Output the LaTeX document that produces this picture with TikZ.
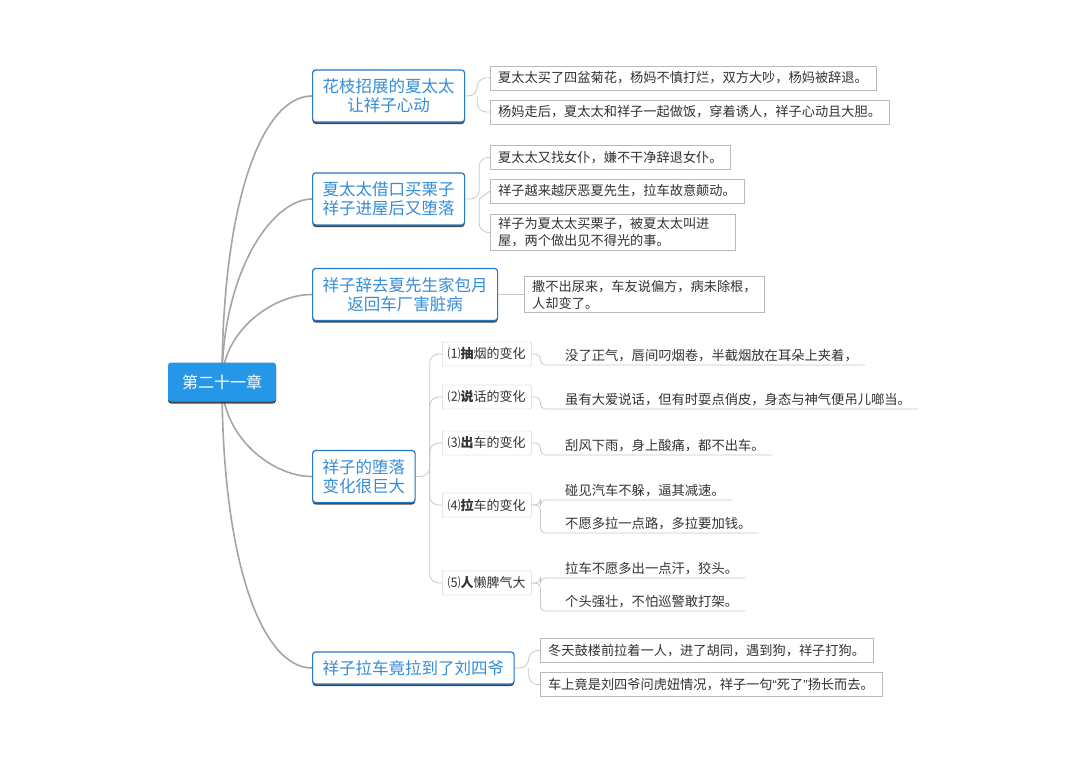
\documentclass[tikz,border=0pt]{standalone}
\usepackage{fontspec}
\newfontfamily\cjk{Noto Sans CJK SC}
\newfontfamily\quotefont{Liberation Sans}
\usetikzlibrary{shadows,backgrounds}
\begin{document}
\begin{tikzpicture}[x=1pt,y=-1pt,
    myShadow/.style={drop shadow={shadow xshift=0pt,shadow yshift=-2pt,fill=black!80,opacity=0.9}},
    rootbox/.style={fill=myRootcol, text=white, rounded corners=3pt, minimum width=108pt, minimum height=39pt, font=\cjk\fontsize{16}{19}\selectfont, myShadow},
    topicbox/.style={draw=myTopicline, line width=1.2pt, fill=white, text=myTopictext, rounded corners=3pt, align=center, anchor=west, inner xsep=10pt, minimum height=52pt, font=\cjk\fontsize{16.5}{19}\selectfont, myShadow},
    leafbox/.style={draw=myLeafline, fill=white, text=black!80, anchor=west, align=left, inner xsep=8pt, minimum height=24pt, font=\cjk\fontsize{13.2}{17}\selectfont},
    subbox/.style={draw=myLeafline, fill=white, text=black!80, rounded corners=1pt, anchor=west, minimum width=89pt, minimum height=24pt, inner xsep=2pt, font=\cjk\fontsize{13}{15}\selectfont},
    noteline/.style={anchor=south west, inner xsep=0pt, inner ysep=3pt, text=black!80, font=\cjk\fontsize{13.3}{15}\selectfont},
    mainlink/.style={draw=myMainlink, line width=1.6pt},
    leaflink/.style={draw=myLeaflink, line width=0.8pt, rounded corners=9pt},
    sublink/.style={draw=myLeaflink, line width=0.8pt, rounded corners=5pt},
]
    \definecolor{myRootcol}{RGB}{38,150,230}
    \definecolor{myTopicline}{RGB}{35,120,200}
    \definecolor{myTopictext}{RGB}{55,140,215}
    \definecolor{myLeafline}{RGB}{185,185,185}
    \definecolor{myMainlink}{RGB}{165,165,165}
    \definecolor{myLeaflink}{RGB}{200,200,200}

    \useasboundingbox (0,0) rectangle (1080,760);

    % centre and main topics
    \node[rootbox] (root) at (222,382) {第二十一章};
    \node[topicbox] (t1) at (312,96) {花枝招展的夏太太\\让祥子心动};
    \node[topicbox] (t2) at (312,199) {夏太太借口买栗子\\祥子进屋后又堕落};
    \node[topicbox] (t3) at (312,294.5) {祥子辞去夏先生家包月\\返回车厂害脏病};
    \node[topicbox] (t4) at (312,476.5) {祥子的堕落\\变化很巨大};
    \node[topicbox, minimum height=32pt] (t5) at (312,668) {祥子拉车竟拉到了刘四爷};

    % details
    \node[leafbox] (a1) at (490,78) {夏太太买了四盆菊花，杨妈不慎打烂，双方大吵，杨妈被辞退。};
    \node[leafbox] (a2) at (490,112) {杨妈走后，夏太太和祥子一起做饭，穿着诱人，祥子心动且大胆。};
    \node[leafbox] (b1) at (490,157.5) {夏太太又找女仆，嫌不干净辞退女仆。};
    \node[leafbox] (b2) at (490,191) {祥子越来越厌恶夏先生，拉车故意颠动。};
    \node[leafbox, text width=229pt] (b3) at (490,232.5) {祥子为夏太太买栗子，被夏太太叫进\\屋，两个做出见不得光的事。};
    \node[leafbox] (c1) at (524,294.5) {撒不出尿来，车友说偏方，病未除根，\\人却变了。};
    \node[leafbox] (e1) at (540,650.5) {冬天鼓楼前拉着一人，进了胡同，遇到狗，祥子打狗。};
    \node[leafbox] (e2) at (540,684.5) {车上竟是刘四爷问虎妞情况，祥子一句{\quotefont“}死了{\quotefont”}扬长而去。};

    \node[subbox] (s1) at (442,354) {⑴{\bfseries 抽}烟的变化};
    \node[subbox] (s2) at (442,397) {⑵{\bfseries 说}话的变化};
    \node[subbox] (s3) at (442,443) {⑶{\bfseries 出}车的变化};
    \node[subbox] (s4) at (442,505) {⑷{\bfseries 拉}车的变化};
    \node[subbox] (s5) at (442,583) {⑸{\bfseries 人}懒脾气大};

    \node[noteline] (u1) at (565,365) {没了正气，唇间叼烟卷，半截烟放在耳朵上夹着，};
    \node[noteline] (u2) at (565,409) {虽有大爱说话，但有时耍点俏皮，身态与神气便吊儿啷当。};
    \node[noteline] (u3) at (565,455) {刮风下雨，身上酸痛，都不出车。};
    \node[noteline] (u4) at (565,500) {碰见汽车不躲，逼其减速。};
    \node[noteline] (u5) at (565,533) {不愿多拉一点路，多拉要加钱。};
    \node[noteline] (u6) at (565,578) {拉车不愿多出一点汗，狡头。};
    \node[noteline] (u7) at (565,611) {个头强壮，不怕巡警敢打架。};

    \begin{scope}[on background layer]
    \fill[white] (0,0) rectangle (1080,760);
    \draw[mainlink] (root.center) to[out=90,in=180,out distance=180pt,in distance=50pt] (t1.west);
    \draw[mainlink] (root.center) to[out=90,in=180,out distance=110pt,in distance=40pt] (t2.west);
    \draw[mainlink] (root.center) to[out=90,in=180,out distance=50pt,in distance=40pt] (t3.west);
    \draw[mainlink] (root.center) to[out=-90,in=180,out distance=55pt,in distance=40pt] (t4.west);
    \draw[mainlink] (root.center) to[out=-90,in=180,out distance=180pt,in distance=50pt] (t5.west);

    \coordinate (j1) at ([xshift=12pt]t1.east);
    \coordinate (j2) at ([xshift=14pt]t2.east);
    \coordinate (j4) at ([xshift=14pt]t4.east);
    \coordinate (j5) at ([xshift=14pt]t5.east);
    \draw[leaflink] (t1.east) -- (j1) |- (a1.west);
    \draw[leaflink] (j1) |- (a2.west);
    \draw[leaflink] (t2.east) -- (j2) |- (b1.west);
    \draw[leaflink] (j2) -- (b2.west);
    \draw[leaflink] (j2) |- (b3.west);
    \draw[leaflink] (t3.east) -- (c1.west);
    \draw[leaflink] (t5.east) -- (j5) |- (e1.west);
    \draw[leaflink] (j5) |- (e2.west);
    \draw[leaflink] (t4.east) -- (j4) |- (s1.west);
    \foreach \s in {s2,s3,s4,s5}
        \draw[leaflink] (j4) |- (\s.west);

    % underlined notes
    \foreach \s/\u in {s1/u1,s2/u2,s3/u3,s4/u4,s4/u5,s5/u6,s5/u7}
        \draw[sublink] (\s.east) -- ++(9,0) |- ([xshift=-12pt]\u.south west) -- ([xshift=7pt]\u.south east);
    \end{scope}
\end{tikzpicture}
\end{document}
